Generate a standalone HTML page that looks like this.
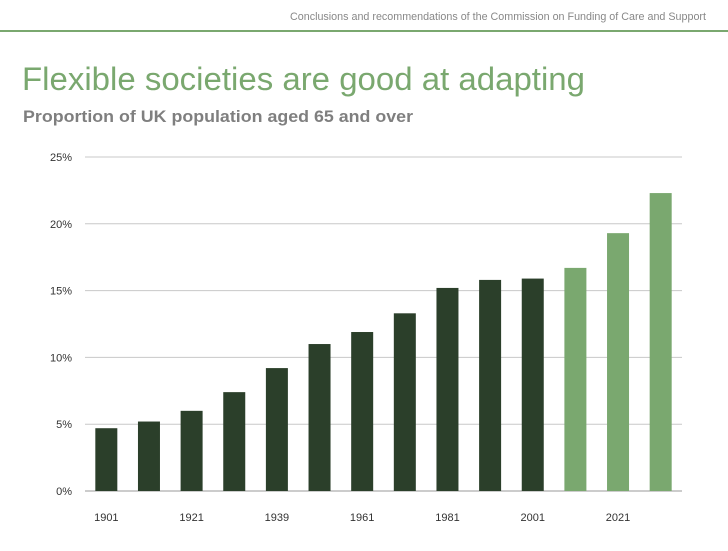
<!DOCTYPE html>
<html><head><meta charset="utf-8"><style>
body{margin:0;width:728px;height:546px;background:#fff;overflow:hidden;font-family:"Liberation Sans",sans-serif}
</style></head><body>
<svg id="chart" width="728" height="546">
<text x="706" y="20" font-size="11" fill="#888" text-anchor="end" textLength="416" lengthAdjust="spacingAndGlyphs">Conclusions and recommendations of the Commission on Funding of Care and Support</text>
<rect x="0" y="30" width="728" height="2" fill="#7aa86f"/>
<text x="22" y="90" font-size="32" fill="#7aa86f" textLength="563" lengthAdjust="spacingAndGlyphs">Flexible societies are good at adapting</text>
<text x="23" y="122" font-size="17" font-weight="bold" fill="#7f7f7f" textLength="390" lengthAdjust="spacingAndGlyphs">Proportion of UK population aged 65 and over</text>
<g id="grid"></g><g id="bars"></g><g id="labels"></g>
</svg>
<script>
const categories=["1901","1911","1921","1931","1939","1951","1961","1971","1981","1991","2001","2011","2021","2031"];
const values=[4.7,5.2,6.0,7.4,9.2,11.0,11.9,13.3,15.2,15.8,15.9,16.7,19.3,22.3];
const projected=[false,false,false,false,false,false,false,false,false,false,false,true,true,true];
const yTicks=[0,5,10,15,20,25];
const yTickLabels=["0%","5%","10%","15%","20%","25%"];
const NS="http://www.w3.org/2000/svg";
const L=85,R=682,T=157,B=491,yMax=25;
const step=(R-L)/categories.length;
const y=v=>B-(v/yMax)*(B-T);
const x=i=>L+step*(i+0.5);
const grid=document.getElementById('grid'),bars=document.getElementById('bars'),labels=document.getElementById('labels');
function mk(tag,attrs,parent){const e=document.createElementNS(NS,tag);for(const k in attrs)e.setAttribute(k,attrs[k]);parent.appendChild(e);return e;}
yTicks.forEach((t,i)=>{
 const ln=mk('line',{x1:L,x2:R,y1:y(t),y2:y(t),stroke:t===0?'#999':'#c8c8c8','stroke-width':1},grid);
 
 
 const tx=mk('text',{x:72,y:y(t)+4,'font-size':11,fill:'#333','text-anchor':'end'},labels);
 tx.textContent=yTickLabels[i];
 
 
});
categories.forEach((c,i)=>{
 const r=mk('rect',{x:x(i)-11,y:y(values[i]),width:22,height:B-y(values[i]),fill:projected[i]?'#7aa86f':'#2b3f2a'},bars);
 
 
 if(i%2===0){
  const tx=mk('text',{x:x(i),y:521,'font-size':11,fill:'#333','text-anchor':'middle'},labels);
  tx.textContent=c;
  
  
 }
});
</script>
</body></html>
